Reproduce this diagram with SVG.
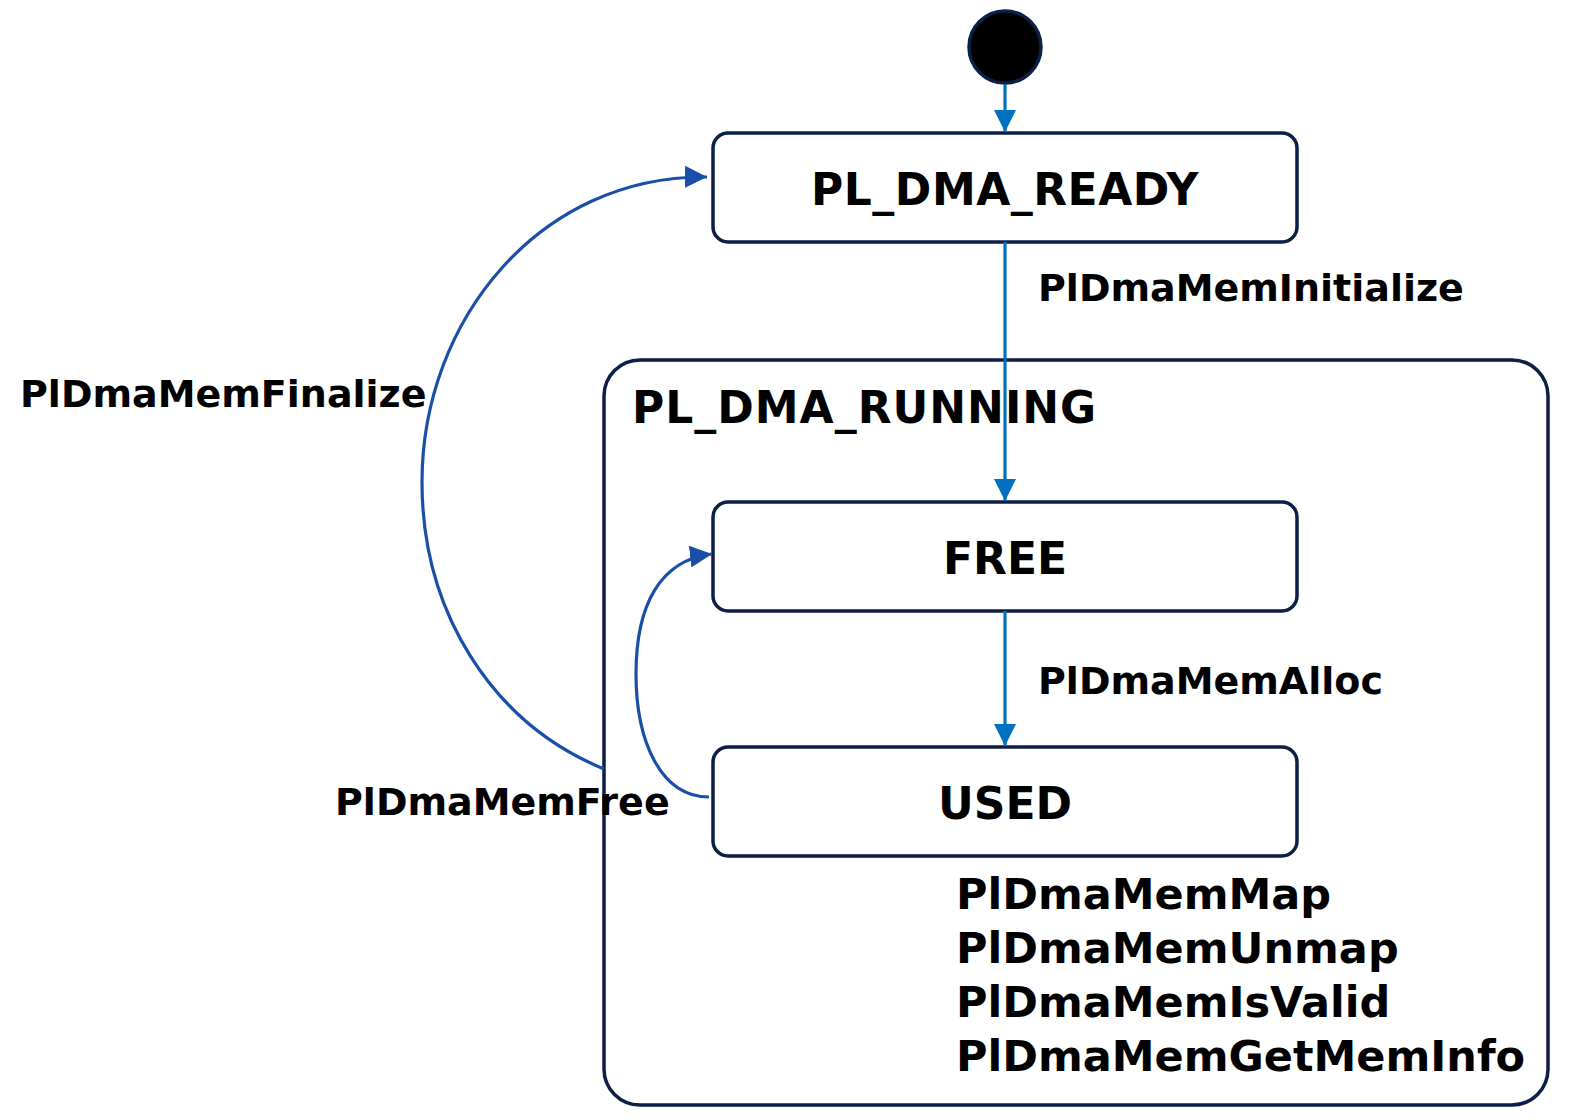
<svg xmlns="http://www.w3.org/2000/svg" width="1574" height="1120" viewBox="0 0 1574 1120">
<defs>
<style>
.st{fill:#fff;stroke:#0C1F47;stroke-width:3.5}
.t{font-family:"DejaVu Sans","Verdana",sans-serif;font-weight:bold;fill:#000}
.c1{fill:none;stroke:#0070C0;stroke-width:3.2}
.c2{fill:none;stroke:#1A4FA8;stroke-width:3.2}
</style>
<marker id="a1" viewBox="0 0 10 10" refX="10" refY="5" markerUnits="userSpaceOnUse" markerWidth="22" markerHeight="22" orient="auto"><path d="M0,0 L10,5 L0,10 Z" fill="#0070C0"/></marker>
<marker id="a2" viewBox="0 0 10 10" refX="10" refY="5" markerUnits="userSpaceOnUse" markerWidth="22" markerHeight="22" orient="auto"><path d="M0,0 L10,5 L0,10 Z" fill="#1A4FA8"/></marker>
</defs>
<rect width="1574" height="1120" fill="#fff"/>
<g id="running">
<rect class="st" x="604" y="360" width="944" height="745" rx="36"/>
<text class="t" x="632" y="423" font-size="44" letter-spacing="1">PL_DMA_RUNNING</text>
</g>
<g id="initial">
<circle cx="1005" cy="47" r="36" fill="#000" stroke="#0C1F47" stroke-width="3.5"/>
</g>
<g id="ready">
<rect class="st" x="713" y="133" width="584" height="109" rx="15"/>
<text class="t" x="1005" y="205" font-size="44" text-anchor="middle" letter-spacing="0.5">PL_DMA_READY</text>
</g>
<g id="free">
<rect class="st" x="713" y="502" width="584" height="109" rx="15"/>
<text class="t" x="1005" y="574" font-size="44" text-anchor="middle">FREE</text>
</g>
<g id="used">
<rect class="st" x="713" y="747" width="584" height="109" rx="15"/>
<text class="t" x="1005" y="819" font-size="44" text-anchor="middle">USED</text>
</g>
<g id="connectors">
<path class="c1" d="M1005,84 L1005,132" marker-end="url(#a1)"/>
<path class="c1" d="M1005,242 L1005,501" marker-end="url(#a1)"/>
<path class="c1" d="M1005,611 L1005,746" marker-end="url(#a1)"/>
<path class="c2" d="M604,769 C490,722 422,610 422,482 C422,320 540,175 707,177" marker-end="url(#a2)"/>
<path class="c2" d="M709,797 C660,797 636,740 636,674 C636,605 660,560 712,554" marker-end="url(#a2)"/>
</g>
<g id="labels">
<text class="t" x="1038" y="301" font-size="38">PlDmaMemInitialize</text>
<text class="t" x="20" y="407" font-size="38">PlDmaMemFinalize</text>
<text class="t" x="1038" y="694" font-size="38">PlDmaMemAlloc</text>
<text class="t" x="335" y="815" font-size="38">PlDmaMemFree</text>
<text class="t" x="956" y="909" font-size="43">PlDmaMemMap</text>
<text class="t" x="956" y="963" font-size="43">PlDmaMemUnmap</text>
<text class="t" x="956" y="1017" font-size="43">PlDmaMemIsValid</text>
<text class="t" x="956" y="1071" font-size="43">PlDmaMemGetMemInfo</text>
</g>
</svg>
